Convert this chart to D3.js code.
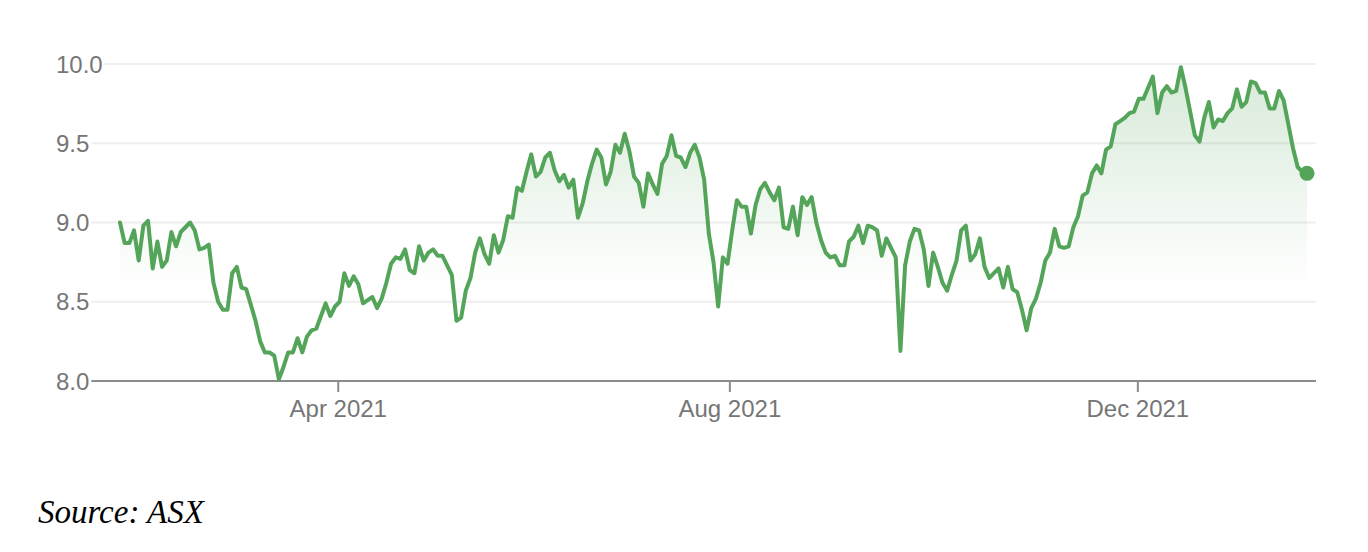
<!DOCTYPE html>
<html>
<head>
<meta charset="utf-8">
<script src="https://cdn.jsdelivr.net/npm/d3@7"></script>
<style>
  html, body { margin: 0; padding: 0; background: #fff; }
  svg { display: block; }
</style>
</head>
<body>
<svg id="chart" width="1368" height="552"></svg>
<script>
// Daily closing values (trading-day index 0..254)
const prices = [
  9.00, 8.87, 8.87, 8.95, 8.76, 8.98, 9.01, 8.71, 8.88, 8.72,
  8.76, 8.94, 8.85, 8.94, 8.97, 9.00, 8.95, 8.83, 8.84, 8.86,
  8.62, 8.50, 8.45, 8.45, 8.68, 8.72, 8.59, 8.58, 8.48, 8.38,
  8.25, 8.18, 8.18, 8.16, 8.01, 8.09, 8.18, 8.18, 8.27, 8.18,
  8.28, 8.32, 8.33, 8.41, 8.49, 8.41, 8.47, 8.50, 8.68, 8.60,
  8.66, 8.61, 8.49, 8.51, 8.53, 8.46, 8.52, 8.62, 8.74, 8.78,
  8.77, 8.83, 8.70, 8.68, 8.85, 8.76, 8.81, 8.83, 8.79, 8.79,
  8.73, 8.67, 8.38, 8.40, 8.57, 8.65, 8.81, 8.90, 8.80, 8.74,
  8.92, 8.81, 8.89, 9.04, 9.03, 9.22, 9.20, 9.32, 9.43, 9.29,
  9.32, 9.41, 9.44, 9.33, 9.26, 9.30, 9.22, 9.27, 9.03, 9.12,
  9.26, 9.37, 9.46, 9.41, 9.24, 9.32, 9.49, 9.44, 9.56, 9.45,
  9.29, 9.25, 9.10, 9.31, 9.24, 9.18, 9.37, 9.42, 9.55, 9.42,
  9.41, 9.35, 9.44, 9.49, 9.41, 9.27, 8.93, 8.75, 8.47, 8.78,
  8.74, 8.95, 9.14, 9.10, 9.10, 8.93, 9.11, 9.21, 9.25, 9.19,
  9.14, 9.22, 8.97, 8.96, 9.10, 8.92, 9.16, 9.11, 9.16, 9.00,
  8.89, 8.81, 8.78, 8.79, 8.73, 8.73, 8.88, 8.91, 8.98, 8.87,
  8.98, 8.97, 8.95, 8.79, 8.90, 8.84, 8.78, 8.19, 8.73, 8.88,
  8.96, 8.95, 8.83, 8.60, 8.81, 8.72, 8.62, 8.57, 8.67, 8.76,
  8.95, 8.98, 8.76, 8.80, 8.90, 8.72, 8.65, 8.68, 8.71, 8.59,
  8.72, 8.58, 8.56, 8.45, 8.32, 8.46, 8.52, 8.62, 8.76, 8.81,
  8.96, 8.85, 8.84, 8.85, 8.97, 9.04, 9.17, 9.19, 9.31, 9.36,
  9.31, 9.46, 9.48, 9.62, 9.64, 9.66, 9.69, 9.70, 9.78, 9.78,
  9.85, 9.92, 9.69, 9.82, 9.86, 9.82, 9.83, 9.98, 9.85, 9.70,
  9.55, 9.51, 9.66, 9.76, 9.60, 9.65, 9.64, 9.69, 9.72, 9.84,
  9.73, 9.76, 9.89, 9.88, 9.82, 9.82, 9.72, 9.72, 9.83, 9.77,
  9.62, 9.47, 9.35, 9.32, 9.31
];

// Axis ticks
const yTicks = [8.0, 8.5, 9.0, 9.5, 10.0];
const xTickLabels = ["Apr 2021", "Aug 2021", "Dec 2021"];
const xTickIndex = [46.7, 130.5, 217.8];   // trading-day position of month start
const areaBaseValue = 8.58;
const sourceText = "Source: ASX";

const svg = d3.select("#chart");
const lineColor = "#54a55a";
const labelColor = "#767676";

const x = d3.scaleLinear().domain([0, prices.length - 1]).range([120, 1307]);
const y = d3.scaleLinear().domain([8, 10]).range([381, 64]);

const gridLeft = 56, gridRight = 1316;

// gradient
const defs = svg.append("defs");
const grad = defs.append("linearGradient")
  .attr("id", "fillGrad").attr("gradientUnits", "userSpaceOnUse")
  .attr("x1", 0).attr("x2", 0).attr("y1", y(10)).attr("y2", y(areaBaseValue));
grad.append("stop").attr("offset", "0%").attr("stop-color", lineColor).attr("stop-opacity", 0.24);
grad.append("stop").attr("offset", "100%").attr("stop-color", lineColor).attr("stop-opacity", 0.0);

// gridlines
svg.append("g").selectAll("line")
  .data(yTicks.filter(d => d > 8))
  .join("line")
  .attr("x1", gridLeft).attr("x2", gridRight)
  .attr("y1", d => y(d)).attr("y2", d => y(d))
  .attr("stroke", "#eeeeee").attr("stroke-width", 2);

// area
const area = d3.area()
  .x((d, i) => x(i))
  .y0(y(areaBaseValue))
  .y1(d => y(d));
svg.append("path").datum(prices)
  .attr("d", area)
  .attr("fill", "url(#fillGrad)");

// x axis baseline
svg.append("line")
  .attr("x1", gridLeft).attr("x2", gridRight)
  .attr("y1", y(8)).attr("y2", y(8))
  .attr("stroke", "#8c8c8c").attr("stroke-width", 2);

// x ticks
const xt = svg.append("g").selectAll("g")
  .data(xTickIndex.map((v, i) => ({ v, label: xTickLabels[i] })))
  .join("g")
  .attr("transform", d => `translate(${x(d.v)},0)`);
xt.append("line")
  .attr("y1", y(8)).attr("y2", y(8) + 11)
  .attr("stroke", "#8c8c8c").attr("stroke-width", 2);
xt.append("text")
  .attr("y", 417)
  .attr("text-anchor", "middle")
  .attr("font-family", "'Liberation Sans', Arial, sans-serif")
  .attr("font-size", 24)
  .attr("fill", labelColor)
  .text(d => d.label);

// y labels with white backing
const yl = svg.append("g").selectAll("g")
  .data(yTicks)
  .join("g");
const ytext = yl.append("text")
  .attr("x", gridLeft)
  .attr("y", d => y(d))
  .attr("dy", "0.36em")
  .attr("font-family", "'Liberation Sans', Arial, sans-serif")
  .attr("font-size", 24)
  .attr("fill", labelColor)
  .text(d => d.toFixed(1));
ytext.each(function() {
  const b = this.getBBox();
  d3.select(this.parentNode).insert("rect", "text")
    .attr("x", b.x - 2).attr("y", b.y)
    .attr("width", b.width + 4).attr("height", b.height)
    .attr("fill", "#fff");
});

// line
const line = d3.line()
  .x((d, i) => x(i))
  .y(d => y(d));
svg.append("path").datum(prices)
  .attr("d", line)
  .attr("fill", "none")
  .attr("stroke", lineColor)
  .attr("stroke-width", 4)
  .attr("stroke-linejoin", "round")
  .attr("stroke-linecap", "round");

// end dot
svg.append("circle")
  .attr("cx", x(prices.length - 1))
  .attr("cy", y(prices[prices.length - 1]))
  .attr("r", 7.5)
  .attr("fill", lineColor);

// source
svg.append("text")
  .attr("x", 38).attr("y", 523)
  .attr("font-family", "'Liberation Serif', 'Times New Roman', serif")
  .attr("font-style", "italic")
  .attr("font-size", 33)
  .attr("fill", "#000")
  .text(sourceText);
</script>
</body>
</html>
